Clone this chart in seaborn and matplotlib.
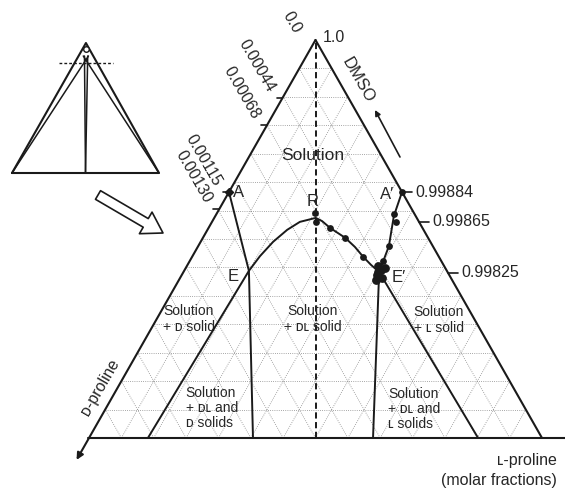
import numpy as np
import pandas as pd
import matplotlib
matplotlib.use("Agg")
import matplotlib.pyplot as plt
import seaborn as sns

sns.set_theme(style="white")
plt.rcParams["font.family"] = ["Liberation Sans", "DejaVu Sans"]

H = np.sqrt(3) / 2

# Compositions inside the magnified DMSO-rich corner, given as
# (L-proline share, DMSO share); the D-proline share is the remainder.

# DL solubility curve  E -> R -> E'
dl_curve_L = [0.143, 0.149, 0.160, 0.176, 0.194, 0.224, 0.242, 0.268, 0.314, 0.347, 0.378, 0.405, 0.432]
dl_curve_S = [0.420, 0.457, 0.493, 0.523, 0.543, 0.553, 0.545, 0.528, 0.503, 0.480, 0.455, 0.435, 0.417]

# D solubility branch A -> E
d_branch_L = [0.000, 0.143]
d_branch_S = [0.618, 0.420]

# L solubility branch A' -> E'
l_branch_L = [0.382, 0.394, 0.421, 0.432]
l_branch_S = [0.618, 0.558, 0.482, 0.417]

# tie lines from the eutectic points down to the base
tie_start_L = [0.143, 0.143, 0.432, 0.432]
tie_start_S = [0.420, 0.420, 0.417, 0.417]
tie_end_L = [0.130, 0.362, 0.627, 0.859]

# measured solubility points
pts_L = [0.2173, 0.2286, 0.268, 0.314, 0.378,
         0.382, 0.392, 0.406, 0.421, 0.427]
pts_S = [0.565, 0.543, 0.528, 0.503, 0.455,
         0.618, 0.563, 0.543, 0.482, 0.445]
# repeated measurements at the eutectic E'
eut_L = [0.422, 0.434, 0.431, 0.446, 0.435, 0.440, 0.428]
eut_S = [0.432, 0.422, 0.410, 0.402, 0.397, 0.427, 0.418]

# scale marks along the edges
left_tick_S = [1.0, 0.854, 0.786, 0.618, 0.575]
left_tick_labels = ["0.0", "0.00044", "0.00068", "0.00115", "0.00130"]
right_tick_S = [0.618, 0.543, 0.415]
right_tick_labels = ["0.99884", "0.99865", "0.99825"]

N_GRID = 14


def tern(L, S):
    L = np.asarray(L, dtype=float)
    S = np.asarray(S, dtype=float)
    return L + S / 2, S * H


fig = plt.figure(figsize=(5.65, 4.9), dpi=100)
ax = fig.add_axes([0, 0, 1, 1])
ax.set_xlim(-89 / 453, 476 / 453)
ax.set_ylim(-52 / 459.6, 438 / 459.6)
ax.axis("off")

# dotted triangular grid
gkw = dict(color="#8a8a8a", lw=0.6, ls=(0, (1, 1.6)), zorder=1)
for k in range(1, N_GRID):
    t = k / N_GRID
    for (L0, S0), (L1, S1) in [((0, t), (1 - t, t)),
                               ((t, 0), (t, 1 - t)),
                               ((1 - t, 0), (0, 1 - t))]:
        xa, ya = tern([L0, L1], [S0, S1])
        ax.plot(xa, ya, **gkw)

# triangle frame
apex = tern(0, 1)
ax.plot([apex[0], 1.0], [apex[1], 0], color="k", lw=1.5, zorder=3)
ax.plot([-0.002, 1.1], [0, 0], color="k", lw=1.5, zorder=3)
tip = tern(0, -0.055)
ax.annotate("", xy=tip, xytext=apex,
            arrowprops=dict(arrowstyle="-|>", color="k", lw=1.5,
                            mutation_scale=10, shrinkA=0, shrinkB=0), zorder=3)

# D = L symmetry line
ax.plot([0.5, 0.5], [0, H], color="k", lw=1.4, ls=(0, (3.2, 1.8)), zorder=2)

# phase boundaries
lkw = dict(color="k", lw=1.4, sort=False, estimator=None, legend=False, ax=ax, zorder=4)
x, y = tern(dl_curve_L, dl_curve_S)
sns.lineplot(x=x, y=y, **lkw)
x, y = tern(d_branch_L, d_branch_S)
sns.lineplot(x=x, y=y, **lkw)
x, y = tern(l_branch_L, l_branch_S)
sns.lineplot(x=x, y=y, **lkw)
for L0, S0, L1 in zip(tie_start_L, tie_start_S, tie_end_L):
    x, y = tern([L0, L1], [S0, 0])
    sns.lineplot(x=x, y=y, **lkw)

# measured points
x, y = tern(pts_L, pts_S)
sns.scatterplot(x=x, y=y, color="k", s=24, linewidth=0, ax=ax, zorder=6, legend=False)
x, y = tern(eut_L, eut_S)
sns.scatterplot(x=x, y=y, color="k", s=40, linewidth=0, ax=ax, zorder=6, legend=False)
x, y = tern([0.0], [0.618])
ax.plot(x, y, marker="D", ms=4, color="k", zorder=6)

# edge scale marks and labels
tfs = 11.5
for S, lab in zip(left_tick_S, left_tick_labels):
    px, py = tern(0, S)
    if S < 1:
        ax.plot([px - 0.013, px], [py, py], color="k", lw=1.2, zorder=3)
        off = (-11, 7)
    else:
        off = (-18, 8)
    ax.annotate(lab, (px, py), xytext=off, textcoords="offset pixels",
                rotation=-60, rotation_mode="anchor", ha="right", va="center",
                fontsize=tfs)
for S, lab in zip(right_tick_S, right_tick_labels):
    px, py = tern(1 - S, S)
    ax.plot([px, px + 0.022], [py, py], color="k", lw=1.2, zorder=3)
    ax.annotate(lab, (px, py), xytext=(13, 0), textcoords="offset pixels",
                ha="left", va="center", fontsize=tfs)
ax.annotate("1.0", apex, xytext=(7, 2), textcoords="offset pixels",
            ha="left", va="center", fontsize=tfs)

# component names
ax.text(*tern(0.144, 0.8995), "DMSO", rotation=-60, ha="center", va="center", fontsize=12)
ax.annotate("", xy=(0.6313, 0.7137), xytext=(0.6865, 0.6114),
            arrowprops=dict(arrowstyle="-|>", color="k", lw=1.2,
                            mutation_scale=8, shrinkA=0, shrinkB=0))
ax.text(*tern(-0.04, 0.128), "ᴅ-proline", rotation=60, ha="center", va="center", fontsize=11.5)
ax.text(1.033, -0.0479, "ʟ-proline", ha="right", va="center", fontsize=11.5)
ax.text(1.033, -0.0914, "(molar fractions)", ha="right", va="center", fontsize=11.5)

# region names
rfs = 10
ax.text(*tern(0.140, 0.709), "Solution", ha="center", va="center", fontsize=12.5)
ax.text(*tern(0.071, 0.299), "Solution\n+ ᴅ solid", ha="center", va="center",
        fontsize=rfs, linespacing=1.15)
ax.text(*tern(0.345, 0.299), "Solution\n+ ᴅʟ solid", ha="center", va="center",
        fontsize=rfs, linespacing=1.15)
ax.text(*tern(0.624, 0.2965), "Solution\n+ ʟ solid", ha="center", va="center",
        fontsize=rfs, linespacing=1.15)
ax.text(*tern(0.176, 0.0754), "Solution\n+ ᴅʟ and\nᴅ solids", ha="left", va="center",
        fontsize=rfs, linespacing=1.1)
ax.text(*tern(0.6236, 0.0729), "Solution\n+ ᴅʟ and\nʟ solids", ha="left", va="center",
        fontsize=rfs, linespacing=1.1)

# point names
pfs = 12
ax.text(*tern(0.023, 0.6156), "A", ha="center", va="center", fontsize=pfs)
ax.text(*tern(0.116, 0.4045), "E", ha="center", va="center", fontsize=pfs)
ax.text(*tern(0.198, 0.593), "R", ha="center", va="center", fontsize=pfs)
ax.text(*tern(0.353, 0.6106), "A′", ha="center", va="center", fontsize=pfs)
ax.text(*tern(0.483, 0.402), "E′", ha="center", va="center", fontsize=pfs)

# hollow pointer from the overview sketch
ax.annotate("", xy=(163, 257), xycoords="figure pixels",
            xytext=(98, 295), textcoords="figure pixels",
            arrowprops=dict(arrowstyle="simple,head_length=0.8,head_width=1.0,tail_width=0.4",
                            fc="white", ec="k", lw=1.2, mutation_scale=18,
                            shrinkA=0, shrinkB=0))

# overview sketch of the whole diagram
ins = fig.add_axes([12 / 565, (490 - 173) / 490, 147 / 565, 130 / 490])
ins.set_xlim(0, 1)
ins.set_ylim(0, 1)
ins.axis("off")
top = (0.503, 1.0)
ins.plot([0, top[0], 1, 0], [0, top[1], 0, 0], color="k", lw=1.5, clip_on=False)
ins.plot([0, 0.52], [0, 0.9], color="k", lw=1.1, clip_on=False)
ins.plot([1, 0.485], [0, 0.9], color="k", lw=1.1, clip_on=False)
ins.plot([0.493, 0.5], [0.9, 0], color="k", lw=1.1, clip_on=False)
ins.plot([0.515, 0.5], [0.9, 0], color="k", lw=1.1, clip_on=False)
ins.plot([0.32, 0.687], [0.846, 0.846], color="k", lw=1.0, ls=(0, (2, 1.5)), clip_on=False)
ins.plot([0.503], [0.95], marker="o", ms=4, mfc="white", mec="k", mew=1.0, clip_on=False)

fig.savefig("out.png", dpi=100)
